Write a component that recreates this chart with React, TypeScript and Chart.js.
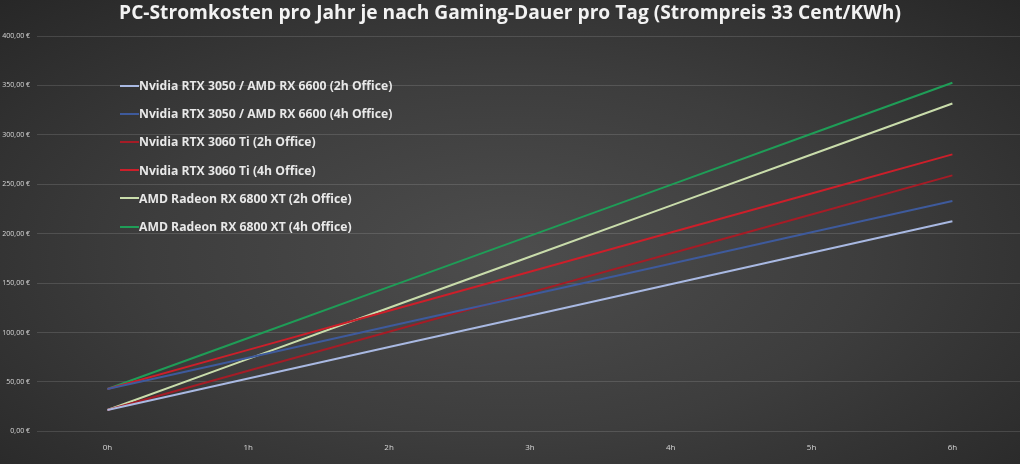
import { useEffect, useRef } from "react"
import { Chart, registerables } from "chart.js"

Chart.register(...registerables)

// Gaming hours per day (x axis)
const hours = [0, 1, 2, 3, 4, 5, 6]

// Yearly cost in euros
const rtx3050_2h = [21.7, 53.5, 85.3, 117.1, 148.9, 180.8, 212.6]
const rtx3050_4h = [42.9, 74.6, 106.3, 138.0, 169.7, 201.4, 233.1]
const rtx3060ti_2h = [21.7, 61.3, 100.8, 140.4, 179.9, 219.5, 259.0]
const rtx3060ti_4h = [42.9, 82.5, 122.0, 161.6, 201.2, 240.7, 280.3]
const rx6800xt_2h = [21.7, 73.4, 125.1, 176.7, 228.4, 280.1, 331.8]
const rx6800xt_4h = [42.9, 94.5, 146.2, 197.8, 249.4, 301.1, 352.7]

const seriesLabels = [
  "Nvidia RTX 3050 / AMD RX 6600 (2h Office)",
  "Nvidia RTX 3050 / AMD RX 6600 (4h Office)",
  "Nvidia RTX 3060 Ti (2h Office)",
  "Nvidia RTX 3060 Ti (4h Office)",
  "AMD Radeon RX 6800 XT (2h Office)",
  "AMD Radeon RX 6800 XT (4h Office)",
]
const seriesValues = [rtx3050_2h, rtx3050_4h, rtx3060ti_2h, rtx3060ti_4h, rx6800xt_2h, rx6800xt_4h]
const seriesColors = ["#a9b9e2", "#3e5a9c", "#a51c26", "#cc1f2a", "#c9dcab", "#1f9d57"]

const title = "PC-Stromkosten pro Jahr je nach Gaming-Dauer pro Tag (Strompreis 33 Cent/KWh)"

const euro = (v: number) => v.toFixed(2).replace(".", ",") + " €"

export default function App() {
  const chartRef = useRef<HTMLCanvasElement>(null)
  const chartInstance = useRef<Chart | null>(null)

  useEffect(() => {
    if (!chartRef.current) return
    if (chartInstance.current) chartInstance.current.destroy()
    const ctx = chartRef.current.getContext("2d")
    if (!ctx) return

    chartInstance.current = new Chart(ctx, {
      type: "line",
      data: {
        datasets: seriesLabels.map((label, i) => ({
          label,
          data: hours.map((h, j) => ({ x: h, y: seriesValues[i][j] })),
          borderColor: seriesColors[i],
          backgroundColor: seriesColors[i],
          borderWidth: 2,
          pointRadius: 0,
          tension: 0,
        })),
      },
      options: {
        animation: false,
        responsive: true,
        maintainAspectRatio: false,
        layout: { padding: { left: 0, right: 0, top: 0, bottom: 7 } },
        scales: {
          x: {
            type: "linear",
            min: -0.5,
            max: 6.48,
            afterBuildTicks: (scale) => {
              scale.ticks = hours.map((h) => ({ value: h }))
            },
            ticks: {
              color: "#d9d9d9",
              font: { family: "Open Sans", size: 8 },
              padding: 4,
              callback: (v) => `${v}h`,
            },
            grid: { display: false },
            border: { display: false },
          },
          y: {
            min: 0,
            max: 400,
            afterFit: (scale) => {
              scale.width = 37
            },
            ticks: {
              stepSize: 50,
              color: "#d9d9d9",
              font: { family: "Open Sans", size: 7 },
              padding: 7,
              callback: (v) => euro(Number(v)),
            },
            grid: { color: "rgba(255,255,255,0.13)", drawTicks: false },
            border: { display: false },
          },
        },
        plugins: {
          legend: { display: false },
          tooltip: { enabled: false },
          title: {
            display: true,
            text: title,
            color: "#f2f2f2",
            font: { family: "Open Sans", size: 19.2, weight: "bold" },
            padding: { top: 2, bottom: 11 },
          },
        },
      },
    })

    return () => {
      if (chartInstance.current) chartInstance.current.destroy()
    }
  }, [])

  return (
    <div
      style={{
        position: "fixed",
        left: 0,
        top: 0,
        width: 1020,
        height: 464,
        background: "radial-gradient(ellipse at 50% 55%, #4d4d4d 0%, #3d3d3d 50%, #272727 100%)",
        fontFamily: "'Open Sans', sans-serif",
      }}
    >
      <canvas ref={chartRef} />
      <div style={{ position: "absolute", left: 120, top: 71.5 }}>
        {seriesLabels.map((label, i) => (
          <div key={label} style={{ display: "flex", alignItems: "center", height: 28.2 }}>
            <span style={{ width: 19, height: 2, background: seriesColors[i], display: "inline-block" }} />
            <span style={{ color: "#e8e8e8", fontWeight: 700, fontSize: 12.2, whiteSpace: "nowrap" }}>{label}</span>
          </div>
        ))}
      </div>
    </div>
  )
}
